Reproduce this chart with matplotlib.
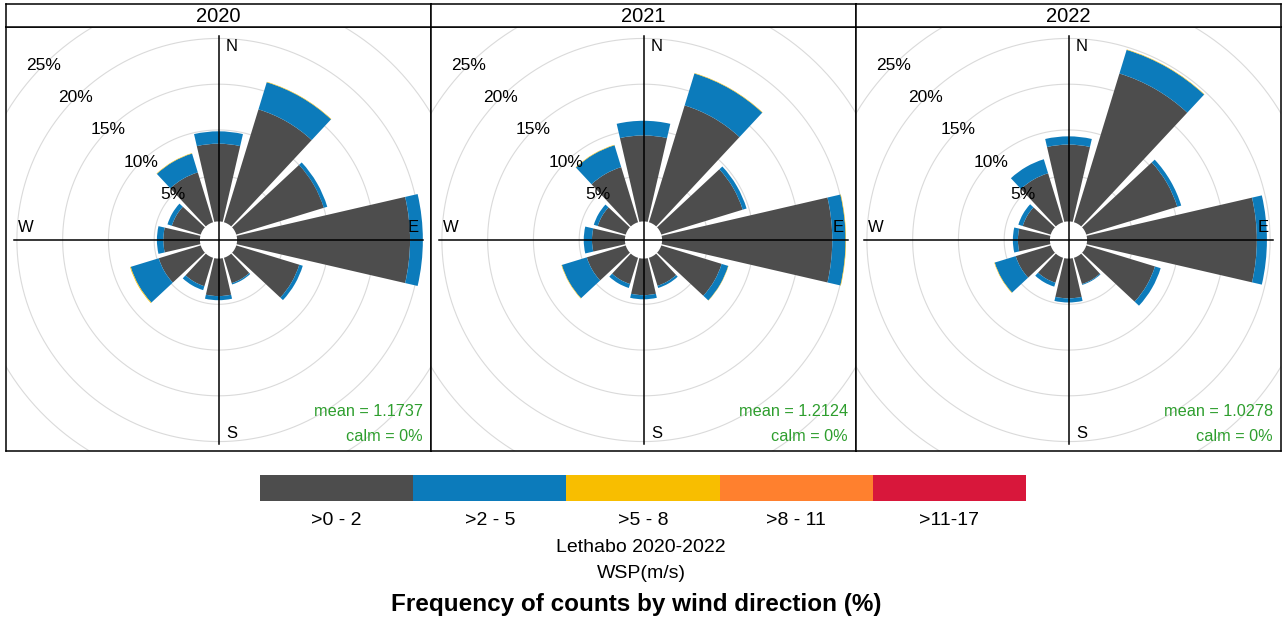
import matplotlib
matplotlib.use("Agg")
import matplotlib.pyplot as plt
from matplotlib.patches import Wedge
import numpy as np

plt.rcParams['font.family'] = ['Liberation Sans', 'DejaVu Sans']

# wind direction sectors (degrees clockwise from north)
directions = [0, 30, 60, 90, 120, 150, 180, 210, 240, 270, 300, 330]
years = ['2020', '2021', '2022']
ws_bins = ['>0 - 2', '>2 - 5', '>5 - 8', '>8 - 11', '>11-17']
bin_colors = ['#4d4d4d', '#0c7bbb', '#f8be00', '#ff802e', '#d8173b']

# frequency (%) per sector, per speed bin
p2020_0_2 = [8.5, 12.9, 10.0, 18.9, 7.2, 2.9, 4.1, 3.25, 4.8, 4.0, 3.3, 5.7]
p2020_2_5 = [1.35, 3.1, 0.4, 1.4, 0.4, 0.15, 0.45, 0.45, 3.2, 0.7, 0.5, 2.15]
p2020_5_8 = [0, 0.05, 0, 0, 0, 0, 0, 0, 0.08, 0, 0, 0.05]

p2021_0_2 = [9.4, 13.35, 9.3, 18.6, 6.9, 3.2, 4.0, 3.0, 4.45, 3.6, 3.2, 6.3]
p2021_2_5 = [1.6, 3.65, 0.45, 1.45, 0.75, 0.25, 0.45, 0.45, 2.85, 0.9, 0.45, 2.5]
p2021_5_8 = [0, 0.05, 0, 0.05, 0.03, 0, 0, 0, 0.05, 0, 0, 0.05]

p2022_0_2 = [8.4, 17.0, 10.4, 18.55, 7.85, 3.0, 4.35, 2.85, 4.0, 3.5, 3.2, 5.6]
p2022_2_5 = [0.9, 2.7, 0.45, 1.1, 0.65, 0.1, 0.45, 0.45, 2.4, 0.55, 0.5, 1.6]
p2022_5_8 = [0, 0.05, 0, 0, 0, 0, 0, 0, 0.05, 0, 0, 0]

mean_ws = [1.1737, 1.2124, 1.0278]
calm_pct = [0, 0, 0]
ring_steps = [5, 10, 15, 20, 25]

panel_data = [
    [p2020_0_2, p2020_2_5, p2020_5_8],
    [p2021_0_2, p2021_2_5, p2021_5_8],
    [p2022_0_2, p2022_2_5, p2022_5_8],
]

# hole offset and axis length like openair windRose
totals = [np.sum(d, axis=0) for d in panel_data]
max_freq = max(t.max() for t in totals)
off = 0.1 * max_freq
R = max_freq + off
half_sector = 13

W, H = 1282, 620
fig = plt.figure(figsize=(W / 100, H / 100), dpi=100)

panel_lefts = [6, 431, 856]
panel_w = 425
for i, year in enumerate(years):
    l = panel_lefts[i]
    ax = fig.add_axes([l / W, (H - 451) / H, panel_w / W, 424 / H])
    ax.set_xlim(-23.22, 23.22)
    ax.set_ylim(-23.06, 23.28)
    ax.set_xticks([])
    ax.set_yticks([])
    for s in ax.spines.values():
        s.set_linewidth(1.1)

    # grid rings
    t = np.linspace(0, 2 * np.pi, 361)
    for k in ring_steps:
        r = off + k
        ax.plot(r * np.sin(t), r * np.cos(t), color='#dadada', lw=0.8, zorder=1)

    # stacked sectors
    base = np.zeros(len(directions))
    for vals, col in zip(panel_data[i], bin_colors):
        vals = np.array(vals)
        for d, b, v in zip(directions, base, vals):
            if v <= 0:
                continue
            a = 90 - d
            w = Wedge((0, 0), off + b + v, a - half_sector, a + half_sector,
                      width=v, facecolor=col, edgecolor='none', lw=0, zorder=2)
            ax.add_patch(w)
        base = base + vals

    # crosshair
    ax.plot([-R, R], [0, 0], color='black', lw=1.1, zorder=3)
    ax.plot([0, 0], [-R, R], color='black', lw=1.1, zorder=3)
    d7 = 0.07 * max_freq
    ax.text(d7, R - 0.4, 'N', ha='center', va='top', fontsize=12, zorder=4)
    ax.text(d7, -R + 0.4, 'S', ha='center', va='bottom', fontsize=12, zorder=4)
    ax.text(R - 0.4, d7, 'E', ha='right', va='center', fontsize=12, zorder=4)
    ax.text(-R + 0.4, d7, 'W', ha='left', va='center', fontsize=12, zorder=4)

    # percent labels at 315 deg
    for k in ring_steps:
        r = off + k
        ax.text(-r * np.sin(np.pi / 4), r * np.cos(np.pi / 4), f'{k}%',
                ha='center', va='center', fontsize=12.5, zorder=4)

    ax.text(R, -R + 2.8, f'mean = {mean_ws[i]}', ha='right', va='bottom',
            color='#2e9e2e', fontsize=11.7, zorder=4)
    ax.text(R, -R, f'calm = {calm_pct[i]}%', ha='right', va='bottom',
            color='#2e9e2e', fontsize=11.7, zorder=4)

    # strip
    sax = fig.add_axes([l / W, (H - 27) / H, panel_w / W, 23 / H])
    sax.set_xticks([])
    sax.set_yticks([])
    for s in sax.spines.values():
        s.set_linewidth(1.1)
    sax.text(0.5, 0.45, year, ha='center', va='center', fontsize=14.5,
             transform=sax.transAxes)

# colour key
kax = fig.add_axes([260 / W, (H - 501) / H, 766 / W, 26 / H])
kax.bar(np.arange(len(ws_bins)), 1, width=1, color=bin_colors)
kax.set_xlim(-0.5, len(ws_bins) - 0.5)
kax.set_ylim(0, 1)
kax.set_yticks([])
kax.set_xticks(np.arange(len(ws_bins)))
kax.set_xticklabels(ws_bins, fontsize=14)
kax.tick_params(axis='x', length=0, pad=8)
for s in kax.spines.values():
    s.set_visible(False)

fig.text(641 / W, 1 - 548 / H, 'Lethabo 2020-2022', ha='center', va='center', fontsize=14)
fig.text(641 / W, 1 - 573 / H, 'WSP(m/s)', ha='center', va='center', fontsize=14)
fig.text(636 / W, 1 - 604 / H, 'Frequency of counts by wind direction (%)',
         ha='center', va='center', fontsize=17.5, fontweight='bold')

fig.savefig('out.png', dpi=100, facecolor='white')
